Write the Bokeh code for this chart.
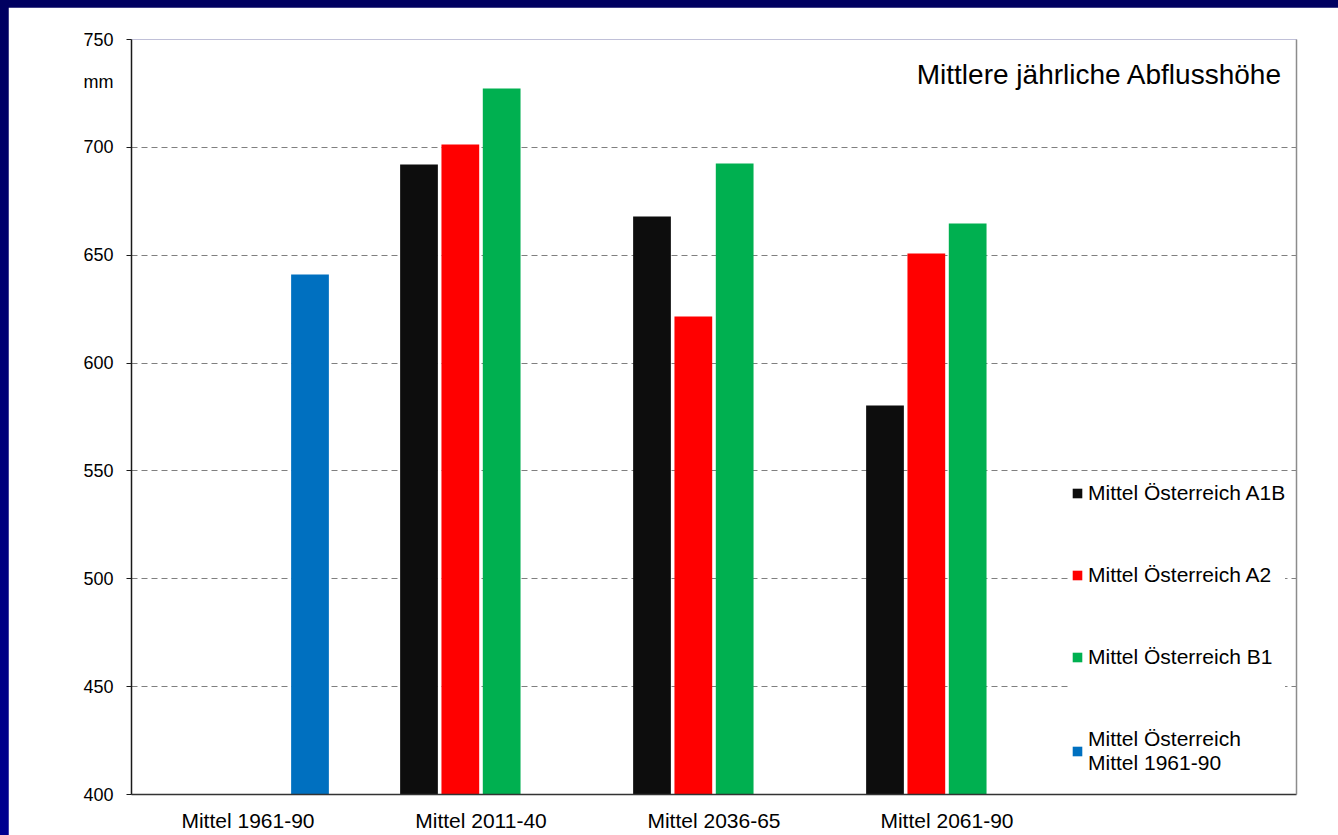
from bokeh.plotting import figure
from bokeh.models import (Range1d, LinearAxis, FixedTicker, Legend, LegendItem,
                          Label, ColumnDataSource)
from bokeh.layouts import column
from bokeh.embed import file_html
from bokeh.resources import INLINE

# ---- data ----
categories = ["Mittel 1961-90", "Mittel 2011-40", "Mittel 2036-65", "Mittel 2061-90"]
a1b_values = [None, 692, 668, 580.3]
a2_values = [None, 701.3, 621.6, 650.8]
b1_values = [None, 727.3, 692.5, 664.7]
base_values = [641.1, None, None, None]
series_names = ["Mittel Österreich A1B", "Mittel Österreich A2",
                "Mittel Österreich B1", "Mittel Österreich\nMittel 1961-90"]
y_ticks = [400, 450, 500, 550, 600, 650, 700, 750]
title_text = "Mittlere jährliche Abflusshöhe"
unit_text = "mm"
UNIT_POS = 730.5  # where the unit text sits along the value axis

# ---- style ----
colors = ["#0d0d0d", "#ff0000", "#00b050", "#0070c0"]
FONT = "Liberation Sans"
SLOT = 0.1774
BAR_W = 0.162
N_SLOTS = 5  # four categories + empty room for legend

p = figure(width=1330, height=828, output_backend="svg", toolbar_location=None,
           x_range=Range1d(0, N_SLOTS), y_range=Range1d(400, 750),
           min_border_left=123, min_border_right=42, min_border_top=32,
           min_border_bottom=41, background_fill_color="white",
           border_fill_color="white", outline_line_color=None)

renderers = []
all_series = [a1b_values, a2_values, b1_values, base_values]
for k, vals in enumerate(all_series):
    xs = [i + 0.5 + (k - 1.5) * SLOT for i, v in enumerate(vals) if v is not None]
    tops = [v for v in vals if v is not None]
    src = ColumnDataSource(dict(x=xs, top=tops))
    r = p.vbar(x="x", top="top", bottom=400, width=BAR_W, source=src,
               fill_color=colors[k], line_color=None)
    renderers.append(r)

# grid
p.xgrid.grid_line_color = None
p.ygrid.ticker = FixedTicker(ticks=y_ticks)
p.ygrid.grid_line_color = "#808080"
p.ygrid.grid_line_dash = "6 4"
p.ygrid.grid_line_width = 1

# y axis (tick marks drawn as "minor" ticks so the unit text can sit among labels)
ya = p.yaxis[0]
ya.ticker = FixedTicker(ticks=y_ticks + [UNIT_POS], minor_ticks=y_ticks)
overrides = {t: str(t) for t in y_ticks}
overrides[UNIT_POS] = unit_text
ya.major_label_overrides = overrides
ya.axis_line_color = "#1a1a1a"
ya.axis_line_width = 1.5
ya.major_tick_line_color = None
ya.major_tick_in = 0
ya.major_tick_out = 5
ya.minor_tick_in = 0
ya.minor_tick_out = 5
ya.minor_tick_line_color = "#1a1a1a"
ya.minor_tick_line_width = 1
ya.major_label_standoff = 13
ya.major_label_text_font = FONT
ya.major_label_text_font_size = "18px"
ya.major_label_text_color = "black"

# x axis
xa = p.xaxis[0]
xa.ticker = FixedTicker(ticks=[i + 0.5 for i in range(len(categories))])
xa.major_label_overrides = {i + 0.5: c for i, c in enumerate(categories)}
xa.axis_line_color = "#333333"
xa.axis_line_width = 1.5
xa.major_tick_line_color = None
xa.minor_tick_line_color = None
xa.major_tick_out = 0
xa.major_tick_in = 0
xa.major_label_standoff = 14
xa.major_label_text_font = FONT
xa.major_label_text_font_size = "21px"
xa.major_label_text_color = "black"

# right frame line
ra = LinearAxis(ticker=FixedTicker(ticks=[]), axis_line_color="#8c8c8c",
                axis_line_width=1.5, major_tick_line_color=None,
                minor_tick_line_color=None, major_label_text_font_size="0px")
p.add_layout(ra, "right")

# title inside the plot area
p.add_layout(Label(x=N_SLOTS, y=734, x_offset=-14, text=title_text, text_align="right",
                   text_baseline="middle", text_font=FONT, text_font_size="28px",
                   text_color="black"))

# legend
items = [LegendItem(label=n, renderers=[r]) for n, r in zip(series_names, renderers)]
legend = Legend(items=items, location=(940, 19), orientation="vertical",
                background_fill_color="white", background_fill_alpha=1.0,
                border_line_color=None, padding=8, margin=0, spacing=58,
                glyph_width=12, glyph_height=12, label_standoff=5,
                label_text_font=FONT, label_text_font_size="21px",
                label_text_color="black", label_text_line_height=1.2)
p.add_layout(legend, "center")

layout = column(p, width=1338, height=835,
                styles={"background": "linear-gradient(#000060, #000090)",
                        "padding-left": "8px", "padding-top": "7px"})

open("out.html", "w").write(file_html(layout, INLINE))
